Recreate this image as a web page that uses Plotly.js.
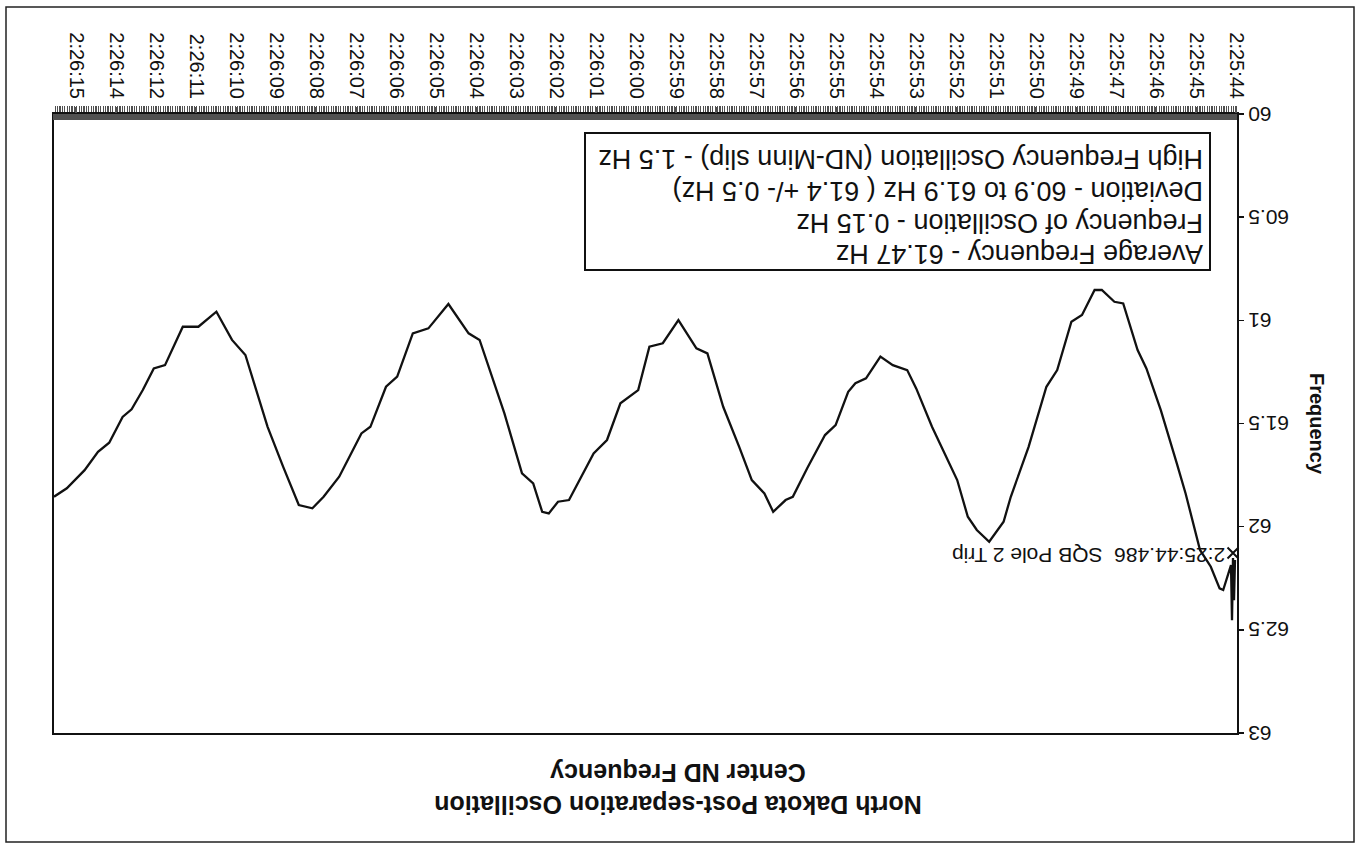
<!DOCTYPE html>
<html>
<head>
<meta charset="utf-8">
<script src="https://cdn.plot.ly/plotly-3.0.1.min.js"></script>
<style>
  html, body { margin: 0; padding: 0; background: #ffffff; overflow: hidden; }
  #chart { width: 1356px; height: 844px; transform: rotate(180deg); transform-origin: 50% 50%; }
</style>
</head>
<body>
<div id="chart"></div>
<script>
// Category positions (in units of tick-label slots) and frequency readings (Hz)
const samplePos = [0.025,0.05,0.075,0.1,0.125,0.185,0.32,0.41,0.63,0.9,1.26,1.48,1.88,2.24,2.46,2.82,3.04,3.355,3.535,3.85,4.115,4.47,4.74,5.185,5.63,5.81,6.17,6.48,6.705,6.97,7.6,7.995,8.22,8.58,8.89,9.25,9.515,9.695,10.01,10.275,10.72,11.08,11.26,11.57,11.79,12.105,12.42,12.82,13.215,13.49,13.94,14.33,14.665,14.945,15.39,15.725,16.06,16.675,16.95,17.18,17.345,17.57,17.85,18.29,18.91,19.185,19.69,20.19,20.58,20.97,21.25,21.64,21.865,22.42,22.81,23.09,23.43,23.82,24.21,24.765,25.1,25.49,25.94,26.33,26.775,27.055,27.33,27.61,27.835,28.17,28.45,28.785,29.23,29.55];
const frequencyHz = [62.162,62.356,62.152,62.453,62.186,62.226,62.307,62.299,62.194,62.113,61.839,61.693,61.435,61.233,61.144,60.918,60.910,60.853,60.853,60.974,61.007,61.241,61.322,61.613,61.855,61.976,62.073,62.016,61.952,61.774,61.516,61.330,61.241,61.217,61.176,61.281,61.305,61.346,61.508,61.556,61.717,61.855,61.871,61.928,61.839,61.774,61.613,61.419,61.160,61.136,60.999,61.111,61.128,61.338,61.402,61.580,61.645,61.871,61.879,61.936,61.928,61.790,61.742,61.451,61.095,61.063,60.921,61.039,61.063,61.273,61.322,61.516,61.548,61.758,61.855,61.911,61.895,61.710,61.516,61.168,61.095,60.958,61.031,61.031,61.217,61.233,61.338,61.431,61.468,61.593,61.637,61.726,61.814,61.855];

const timeLabels = ["2:25:44","2:25:45","2:25:46","2:25:47","2:25:49","2:25:50","2:25:51","2:25:52","2:25:53","2:25:54","2:25:55","2:25:56","2:25:57","2:25:58","2:25:59","2:26:00","2:26:01","2:26:02","2:26:03","2:26:04","2:26:05","2:26:06","2:26:07","2:26:08","2:26:09","2:26:10","2:26:11","2:26:12","2:26:14","2:26:15"];
const labelPos = timeLabels.map((_, i) => i);

const yTicks = [60, 60.5, 61, 61.5, 62, 62.5, 63];

const tripPos = [0.075];
const tripFreq = [62.128];
const tripLabel = ["2:25:44.486\u00a0\u00a0SQB Pole 2 Trip"];

const noteLines = [
  "Average Frequency - 61.47 Hz",
  "Frequency of Oscillation - 0.15 Hz",
  "Deviation - 60.9 to 61.9 Hz ( 61.4 +/- 0.5 Hz)",
  "High Frequency Oscillation (ND-Minn slip) - 1.5 Hz"
];

const FONT = '"Liberation Sans", Arial, Helvetica, sans-serif';
const xRange = [-0.025, 29.55];

// plot area in page pixels (before the 180° page rotation)
const L = 119, R = 1302, T = 111, B = 730;
const px = v => (v - L) / (R - L);
const py = v => (B - v) / (B - T);

const BAND = '#505050';

const traces = [
  {
    type: 'scatter', mode: 'lines',
    x: samplePos, y: frequencyHz, xaxis: 'x', yaxis: 'y',
    line: { color: '#111111', width: 2.3 },
    hoverinfo: 'skip', showlegend: false
  },
  {
    type: 'scatter', mode: 'markers+text',
    x: tripPos, y: tripFreq, text: tripLabel, xaxis: 'x2', yaxis: 'y',
    textposition: 'middle right',
    textfont: { family: FONT, size: 21, color: '#111' },
    marker: { symbol: 'x-thin', size: 11, line: { color: '#111', width: 2 } },
    hoverinfo: 'skip', showlegend: false, cliponaxis: false
  }
];

// note box text: one annotation per line
const noteY = [590, 621, 653, 685];
const noteAnnotations = noteLines.map((t, i) => ({
  xref: 'paper', yref: 'paper',
  x: px(151), y: py(noteY[i]), xanchor: 'left', yanchor: 'middle',
  text: t, showarrow: false, align: 'left',
  font: { family: FONT, size: 27, color: '#111' }
}));

const layout = {
  width: 1356, height: 844,
  margin: { l: L, r: 1356 - R, t: T, b: 844 - B, pad: 0 },
  paper_bgcolor: '#ffffff', plot_bgcolor: '#ffffff',
  font: { family: FONT, color: '#111' },
  showlegend: false,
  title: {
    text: 'North Dakota Post-separation Oscillation<br>Center ND Frequency',
    font: { family: FONT, size: 25, weight: 700, color: '#111' },
    xref: 'container', x: 0.5, xanchor: 'center',
    yref: 'container', y: 1 - 48 / 844, yanchor: 'middle'
  },
  // dense category tick marks forming the dark band along the time axis
  xaxis: {
    range: xRange,
    tickmode: 'linear', tick0: 0, dtick: 0.06,
    ticks: 'outside', ticklen: 6, tickcolor: BAND, tickwidth: 1.2,
    minor: { tickmode: 'linear', tick0: 0, dtick: 0.03, ticks: 'inside', ticklen: 6, tickcolor: BAND, tickwidth: 1.2, showgrid: false },
    showticklabels: false,
    showgrid: false, zeroline: false,
    showline: true, linecolor: '#111', linewidth: 2, mirror: true
  },
  // time labels
  xaxis2: {
    overlaying: 'x', anchor: 'y', side: 'bottom',
    range: xRange,
    tickmode: 'array', tickvals: labelPos, ticktext: timeLabels,
    tickangle: -90,
    tickfont: { family: FONT, size: 20, color: '#111' },
    ticks: 'outside', ticklen: 6, tickcolor: BAND, tickwidth: 1.2,
    showgrid: false, zeroline: false, showline: false
  },
  yaxis: {
    range: [60, 63],
    tickmode: 'array', tickvals: yTicks, ticktext: yTicks.map(String),
    tickfont: { family: FONT, size: 21, color: '#111' },
    ticks: 'outside', ticklen: 5, tickcolor: '#111', tickwidth: 1.5,
    showgrid: false, zeroline: false,
    showline: true, linecolor: '#111', linewidth: 2, mirror: true,
    title: { text: 'Frequency', font: { family: FONT, size: 20, weight: 700, color: '#111' }, standoff: 15 }
  },
  annotations: noteAnnotations,
  shapes: [
    {
      type: 'rect', xref: 'paper', yref: 'paper',
      x0: px(146), x1: px(771), y0: py(711), y1: py(574),
      line: { color: '#111', width: 2 }, fillcolor: '#ffffff', layer: 'above'
    },
    {
      type: 'rect', xref: 'paper', yref: 'paper',
      x0: px(2), x1: px(1350), y0: py(837), y1: py(2),
      line: { color: '#222', width: 1.5 }, fillcolor: 'rgba(0,0,0,0)'
    }
  ]
};

Plotly.newPlot('chart', traces, layout, { staticPlot: true, displayModeBar: false });
</script>
</body>
</html>
